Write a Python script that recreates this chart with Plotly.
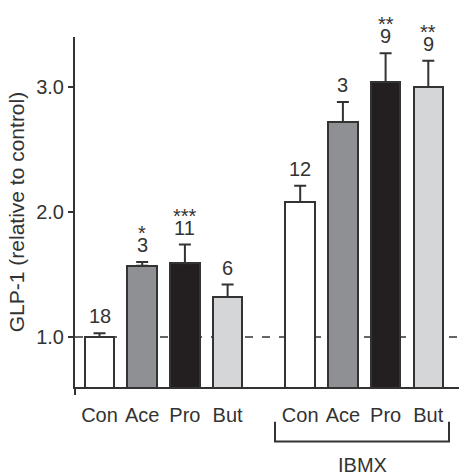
import plotly.graph_objects as go

# ---- data ----
categories = ["Con", "Ace", "Pro", "But", "Con", "Ace", "Pro", "But"]
positions = [0, 1, 2, 3, 4.7, 5.7, 6.7, 7.7]
values = [1.00, 1.57, 1.59, 1.32, 2.08, 2.72, 3.04, 3.00]
errors = [0.03, 0.03, 0.15, 0.10, 0.13, 0.16, 0.23, 0.21]
n_labels = ["18", "3", "11", "6", "12", "3", "9", "9"]
sig_labels = ["", "*", "***", "", "", "", "**", "**"]
fill_colors = ["#ffffff", "#8f9094", "#231f20", "#d5d6d8",
               "#ffffff", "#8f9094", "#231f20", "#d5d6d8"]
y_ticks = [1.0, 2.0, 3.0]
group_label = "IBMX"

TXT = "#333333"
LINE = "#333333"
FONT = "Liberation Sans, Arial, Helvetica, sans-serif"

fig = go.Figure()
fig.add_trace(go.Bar(
    x=positions, y=values, width=0.69,
    marker=dict(color=fill_colors, line=dict(color=LINE, width=2)),
    error_y=dict(type="data", array=errors, arrayminus=[0] * len(errors),
                 symmetric=False, color=LINE, thickness=2, width=6),
    showlegend=False, hoverinfo="skip",
))

# n labels and significance stars
for x, v, e, n, s in zip(positions, values, errors, n_labels, sig_labels):
    fig.add_annotation(x=x, y=v + e, text=n, showarrow=False, yanchor="middle",
                       yshift=17, font=dict(size=20, color=TXT, family=FONT))
    if s:
        fig.add_annotation(x=x, y=v + e, text=s, showarrow=False, yanchor="middle",
                           yshift=29, font=dict(size=20, color=TXT, family=FONT))

# dashed reference line at control level
fig.add_shape(type="line", xref="paper", x0=0, x1=1, yref="y", y0=1.0, y1=1.0,
              line=dict(color=LINE, width=1.5, dash="8px,9px"), layer="below")

# y axis extends slightly below the x axis
fig.add_shape(type="line", xref="paper", x0=0, x1=0, yref="paper", y0=0, y1=-0.023,
              line=dict(color=LINE, width=2))

# IBMX bracket
bl = positions[4] - 0.59
br = positions[7] + 0.485
fig.add_shape(type="path", xref="x", yref="paper",
              path=f"M {bl},-0.099 L {bl},-0.156 L {br},-0.156 L {br},-0.099",
              line=dict(color=LINE, width=2))
fig.add_annotation(x=(bl + br) / 2, y=-0.222, xref="x", yref="paper", text=group_label,
                   showarrow=False, yanchor="middle",
                   font=dict(size=20, color=TXT, family=FONT))

fig.update_layout(
    width=459, height=476,
    margin=dict(l=75, r=0, t=37, b=89),
    paper_bgcolor="white", plot_bgcolor="white",
    font=dict(family=FONT, color=TXT, size=20),
    bargap=0,
)
fig.update_xaxes(
    range=[-0.574, 8.419], tickvals=positions, ticktext=categories,
    showline=True, linecolor=LINE, linewidth=2, showgrid=False, zeroline=False,
    ticks="outside", ticklen=9, tickcolor="rgba(0,0,0,0)",
    tickfont=dict(size=20, color=TXT),
)
fig.update_yaxes(
    range=[0.6, 3.4], tickvals=y_ticks, tickformat=".1f",
    showline=True, linecolor=LINE, linewidth=2, showgrid=False, zeroline=False,
    ticks="outside", ticklen=5, tickwidth=1.5, tickcolor=LINE,
    tickfont=dict(size=20, color=TXT),
    title=dict(text="GLP-1 (relative to control)", font=dict(size=21, color=TXT), standoff=6),
)

fig.write_html("out.html", config={"displayModeBar": False},
               post_script="document.body.style.margin='0';document.body.style.overflow='hidden';")
